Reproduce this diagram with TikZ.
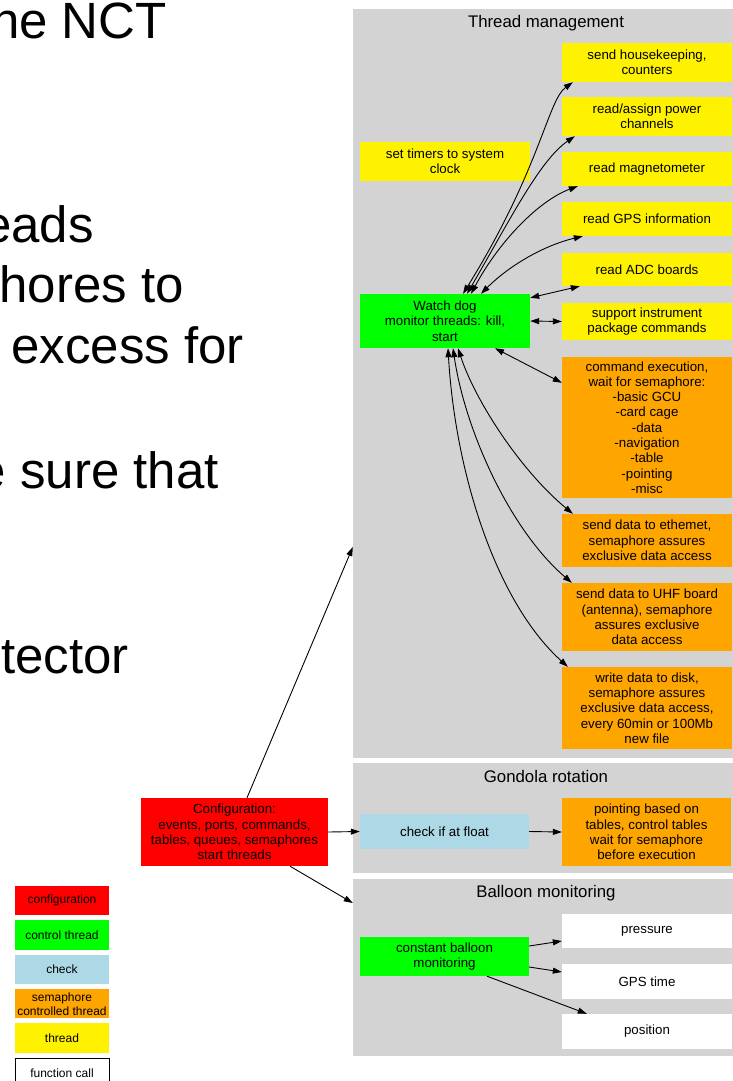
\documentclass[tikz,border=0pt]{standalone}
\usepackage{fontspec}
\setmainfont{Liberation Sans}
\usetikzlibrary{positioning, shapes, arrows.meta}
\definecolor{gvgray}{HTML}{D3D3D3}
\definecolor{gvorange}{HTML}{FFA500}
\definecolor{gvblue}{HTML}{ADD8E6}
\tikzstyle{box}     = [rectangle, inner sep=0pt, align=center, text=black, font=\fontsize{13.3}{15.3}\selectfont]
\tikzstyle{thread}  = [box, fill=yellow, minimum width=170pt]
\tikzstyle{semthr}  = [box, fill=gvorange, minimum width=170pt]
\tikzstyle{ctrl}    = [box, fill=green, minimum width=170pt]
\tikzstyle{check}   = [box, fill=gvblue, minimum width=169pt]
\tikzstyle{config}  = [box, fill=red, minimum width=187pt]
\tikzstyle{call}    = [box, fill=white, minimum width=170pt]
\tikzstyle{cluster} = [rectangle, fill=gvgray, inner sep=0pt, minimum width=387pt]
\tikzstyle{title}   = [inner sep=0pt, font=\fontsize{16.8}{20}\selectfont]
\tikzstyle{legend}  = [rectangle, inner sep=0pt, align=center, minimum width=94pt, minimum height=29.5pt, font=\fontsize{12}{14}\selectfont]
\tikzstyle{slide}   = [anchor=base east, inner sep=0pt, font=\fontsize{51}{60}\selectfont]
\tikzstyle{arrow}   = [->, >={Triangle[length=9pt,width=6pt]}, line width=0.9pt]
\tikzstyle{darrow}  = [arrow, <->]

\begin{document}
\begin{tikzpicture}[x=1pt, y=-1pt]
    \useasboundingbox (0,0) rectangle (732,1081);

    % slide text cut off at the left
    \node [slide] (s1) at (167,38) {he NCT};
    \node [slide] (s2) at (94,242) {eads};
    \node [slide] (s3) at (184,302) {hores to};
    \node [slide] (s4) at (244,363) {excess for};
    \node [slide] (s5) at (219,488) {e sure that};
    \node [slide] (s6) at (129,673) {tector};

    % clusters
    \node [cluster, minimum height=749pt] (tm) at (546.5,383.5) {};
    \node [title] (tmt) at (546,23) {Thread management};
    \node [cluster, minimum height=110pt] (gr) at (546.5,818) {};
    \node [title] (grt) at (546,776) {Gondola rotation};
    \node [cluster, minimum height=177pt] (bm) at (546.5,967.5) {};
    \node [title] (bmt) at (546,893) {Balloon monitoring};

    % thread management
    \node [thread, minimum height=39pt] (hk) at (647,62.5) {send housekeeping,\\counters};
    \node [thread, minimum height=39pt] (pow) at (647,116.5) {read/assign power\\channels};
    \node [thread, minimum height=34pt] (mag) at (647,169) {read magnetometer};
    \node [thread, minimum height=34pt] (gps) at (647,219) {read GPS information};
    \node [thread, minimum height=33pt] (adc) at (647,269.5) {read ADC boards};
    \node [thread, minimum height=37pt] (sup) at (647,321.5) {support instrument\\package commands};
    \node [semthr, minimum height=141pt] (cmd) at (647,427.5) {command execution,\\wait for semaphore:\\-basic GCU\\-card cage\\-data\\-navigation\\-table\\-pointing\\-misc};
    \node [semthr, minimum height=53pt] (eth) at (647,540.5) {send data to ethemet,\\semaphore assures\\exclusive data access};
    \node [semthr, minimum height=68pt] (uhf) at (647,617) {send data to UHF board\\(antenna), semaphore\\assures exclusive\\data access};
    \node [semthr, minimum height=82pt] (disk) at (647,708) {write data to disk,\\semaphore assures\\exclusive data access,\\every 60min or 100Mb\\new file};
    \node [thread, minimum height=39pt] (timers) at (445,161.5) {set timers to system\\clock};
    \node [ctrl, minimum height=54pt] (wd) at (445,321) {Watch dog\\monitor threads: kill,\\start};

    % gondola rotation
    \node [config, minimum height=68pt] (config) at (234.5,832) {Configuration:\\events, ports, commands,\\tables, queues, semaphores\\start threads};
    \node [check, minimum height=35pt] (chk) at (444.5,831.5) {check if at float};
    \node [semthr, minimum height=68pt, minimum width=169pt] (point) at (646.5,832) {pointing based on\\tables, control tables\\wait for semaphore\\before execution};

    % balloon monitoring
    \node [ctrl, minimum height=39pt, minimum width=169pt] (bmon) at (444.5,956.5) {constant balloon\\monitoring};
    \node [call, minimum height=34pt] (press) at (647,931) {pressure};
    \node [call, minimum height=35pt] (gpst) at (647,981.5) {GPS time};
    \node [call, minimum height=35pt] (posn) at (647,1031.5) {position};

    % legend
    \node [legend, fill=red] (lconf) at (62,900.5) {configuration};
    \node [legend, fill=green, below=4.5pt of lconf] (lctl) {control thread};
    \node [legend, fill=gvblue, below=4.5pt of lctl] (lchk) {check};
    \node [legend, fill=gvorange, below=4.5pt of lchk] (lsem) {semaphore\\controlled thread};
    \node [legend, fill=yellow, below=4.5pt of lsem] (lthr) {thread};
    \node [legend, fill=white, draw=black, line width=1pt, below=4.5pt of lthr] (lcall) {function call};

    % watch dog connections
    \draw [darrow] ([xshift=18pt]wd.north) .. controls +(77,-124) and +(-25,18) .. ([xshift=11pt]hk.south west);
    \draw [darrow] ([xshift=22pt]wd.north) .. controls +(43,-74) and +(-35,24) .. ([xshift=13pt]pow.south west);
    \draw [darrow] ([xshift=26pt]wd.north) .. controls +(29,-54) and +(-38,14) .. ([xshift=16pt]mag.south west);
    \draw [darrow] ([xshift=36pt]wd.north) .. controls +(29,-29) and +(-38,9) .. ([xshift=21pt]gps.south west);
    \draw [darrow] ([yshift=-4pt]wd.north east) -- ([xshift=18pt]adc.south west);
    \draw [darrow] (wd.east) -- (sup.west);
    \draw [darrow] ([xshift=50pt]wd.south) -- ([yshift=-26pt]cmd.north west);
    \draw [darrow] ([xshift=13pt]wd.south) .. controls +(17,52) and +(-53,-44) .. ([xshift=11pt]eth.north west);
    \draw [darrow] ([xshift=8pt]wd.south) .. controls +(12,82) and +(-62,-53) .. ([xshift=10pt]uhf.north west);
    \draw [darrow] ([xshift=3pt]wd.south) .. controls +(7,122) and +(-73,-66) .. ([xshift=6pt]disk.north west);

    % configuration and the rest
    \draw [arrow] ([xshift=12.5pt]config.north) -- ([yshift=-163.5pt]tm.west);
    \draw [arrow] (config.east) -- (chk.west);
    \draw [arrow] ([xshift=55.5pt]config.south) -- ([yshift=64.5pt]bm.west);
    \draw [arrow] (chk.east) -- (point.west);
    \draw [arrow] ([yshift=10.5pt]bmon.east) -- ([yshift=-10pt]press.west);
    \draw [arrow] ([yshift=-10.5pt]bmon.east) -- ([yshift=9.5pt]gpst.west);
    \draw [arrow] ([xshift=42.5pt]bmon.south) -- ([xshift=25pt]posn.north west);
\end{tikzpicture}
\end{document}
